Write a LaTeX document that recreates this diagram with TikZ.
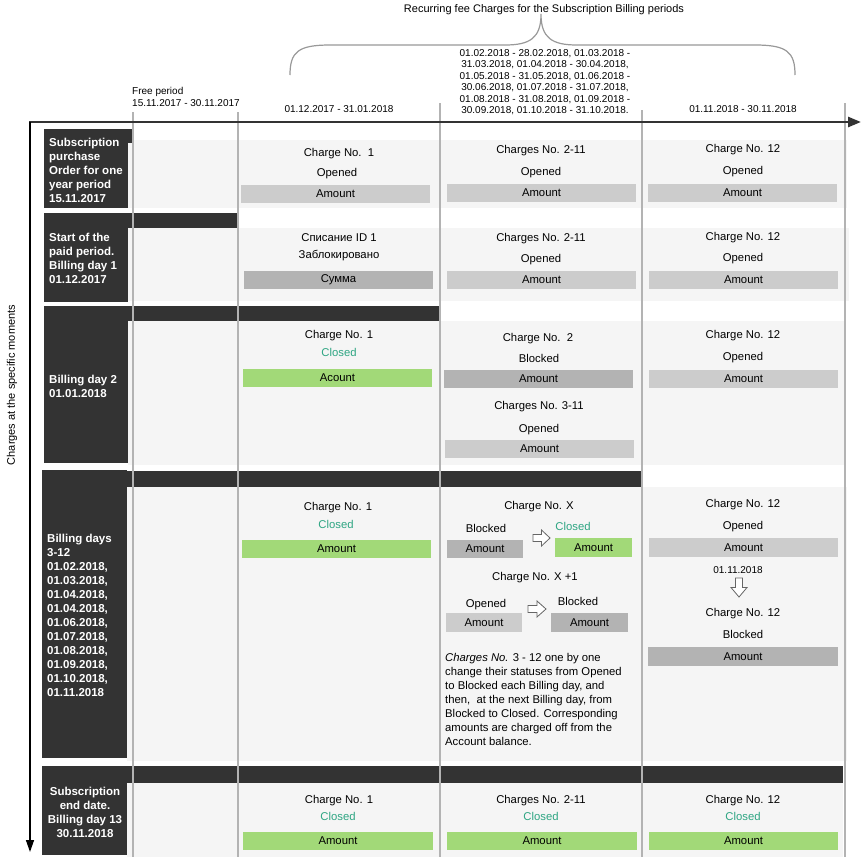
\documentclass[tikz,border=0pt]{standalone}
\usepackage{fontspec}
\setmainfont{Liberation Sans}
\usetikzlibrary{arrows.meta}
\definecolor{dk}{HTML}{333333}
\definecolor{gl}{HTML}{B3B3B3}
\definecolor{bandc}{HTML}{F5F5F5}
\definecolor{amtL}{HTML}{CCCCCC}
\definecolor{amtD}{HTML}{B3B3B3}
\definecolor{amtG}{RGB}{162,217,120}
\definecolor{clsd}{RGB}{45,165,130}
\definecolor{brc}{HTML}{999999}
\tikzset{
  txt/.style={font=\fontsize{11.3}{14}\selectfont, inner sep=0pt, anchor=base},
  small/.style={font=\fontsize{10}{12}\selectfont, inner sep=0pt},
  clo/.style={txt, text=clsd},
  amtbox/.style={inner sep=0pt, font=\fontsize{11.3}{14}\selectfont, minimum width=189pt, minimum height=18pt},
  al/.style={amtbox, fill=amtL},
  ad/.style={amtbox, fill=amtD},
  ag/.style={amtbox, fill=amtG},
  lab/.style={font=\fontsize{11.5}{14}\selectfont\bfseries, text=white, inner sep=0pt, align=left, anchor=north west},
  gline/.style={draw=gl, line width=1.5pt},
  bandfill/.style={fill=bandc},
  darkfill/.style={fill=dk},
  blockarrow/.style={draw=black!60, fill=white, line width=0.8pt},
}
\begin{document}
\begin{tikzpicture}[x=1pt,y=-1pt]
\useasboundingbox (0,0) rectangle (864,857);
\fill[white] (0,0) rectangle (864,857);

% bands
\fill[bandfill] (128,140) rectangle (847,208);
\fill[bandfill] (128,228) rectangle (849,301);
\fill[bandfill] (128,321) rectangle (845,465);
\fill[bandfill] (127,487) rectangle (847,761);
\fill[bandfill] (127,783) rectangle (843,857);

% dark label boxes and progress bars
\fill[darkfill] (44,129) rectangle (128,208);
\fill[darkfill] (128,129) rectangle (133,143);
\fill[darkfill] (44,213) rectangle (128,302);
\fill[darkfill] (128,213) rectangle (238,228);
\fill[darkfill] (44,306) rectangle (128,463);
\fill[darkfill] (128,306) rectangle (440,321);
\fill[darkfill] (42,470) rectangle (127,758);
\fill[darkfill] (127,471) rectangle (642,487);
\fill[darkfill] (42,766) rectangle (127,855);
\fill[darkfill] (127,766) rectangle (843,783);

% grey column lines
\draw[gline] (133,112) -- (133,857);
\draw[gline] (238,112) -- (238,857);
\draw[gline] (440,103) -- (440,857);
\draw[gline] (642,110) -- (642,857);
\draw[gline] (845,103) -- (845,857);

% axes
\coordinate (ho) at (29,122);
\coordinate (he) at (861,122);
\coordinate (vo) at (30,122);
\coordinate (ve) at (30,852);
\draw[dk, line width=2.5pt, -{Triangle[length=13pt,width=10pt]}] (ho) -- (he);
\draw[black, line width=1.3pt, -{Triangle[length=12pt,width=8pt]}] (vo) -- (ve);
\node[font=\fontsize{11}{13}\selectfont, rotate=90, inner sep=0pt] (vlab) at (12,385) {Charges at the specific moments};

% header
\node[font=\fontsize{11}{13}\selectfont, inner sep=0pt, anchor=base] (title) at (544,12) {Recurring fee Charges for the Subscription Billing periods};
\draw[brc, line width=1.2pt] (290,75) .. controls (290,52) and (298,45) .. (330,45) -- (505,45) .. controls (530,45) and (541,38) .. (541,14) .. controls (541,38) and (552,45) .. (577,45) -- (755,45) .. controls (787,45) and (795,52) .. (795,75);
\node[small, align=left, anchor=north west] (free) at (132,87.3) {Free period\\15.11.2017 - 30.11.2017};
\node[small, anchor=base] (p1) at (339,112.6) {01.12.2017 - 31.01.2018};
\node[font=\fontsize{10}{11.4}\selectfont, inner sep=0pt, align=center, anchor=north] (p2) at (545,49.3) {01.02.2018 - 28.02.2018, 01.03.2018 -\\31.03.2018, 01.04.2018 - 30.04.2018,\\01.05.2018 - 31.05.2018, 01.06.2018 -\\30.06.2018, 01.07.2018 - 31.07.2018,\\01.08.2018 - 31.08.2018, 01.09.2018 -\\30.09.2018, 01.10.2018 - 31.10.2018.};
\node[small, anchor=base] (p3) at (743,112.6) {01.11.2018 - 30.11.2018};

% labels
\node[lab] (L1) at (49,137.7) {Subscription\\purchase\\Order for one\\year period\\15.11.2017};
\node[lab] (L2) at (49,232.7) {Start of the\\paid period.\\Billing day 1\\01.12.2017};
\node[lab] (L3) at (49,374.7) {Billing day 2\\01.01.2018};
\node[lab] (L4) at (47,533.7) {Billing days\\3-12\\01.02.2018,\\01.03.2018,\\01.04.2018,\\01.04.2018,\\01.06.2018,\\01.07.2018,\\01.08.2018,\\01.09.2018,\\01.10.2018,\\01.11.2018};
\node[lab, align=center, anchor=north] (L5) at (85,786.7) {Subscription\\end date.\\Billing day 13\\30.11.2018};

% row 1
\node[txt] (r1c1a) at (339,156) {Charge No.\ \ 1};
\node[txt] (r1c1b) at (337,176) {Opened};
\node[al] (a11) at (335.5,193.5) {Amount};
\node[txt] (r1c2a) at (541,153) {Charges No. 2-11};
\node[txt] (r1c2b) at (541,175) {Opened};
\node[al] (a12) at (541.5,193) {Amount};
\node[txt] (r1c3a) at (743,152) {Charge No. 12};
\node[txt] (r1c3b) at (743,174) {Opened};
\node[al] (a13) at (742.5,192.5) {Amount};

% row 2
\node[txt] (r2c1a) at (339,241) {Списание ID 1};
\node[txt] (r2c1b) at (339,258) {Заблокировано};
\node[ad] (a21) at (338.5,280) {Сумма};
\node[txt] (r2c2a) at (541,241) {Charges No. 2-11};
\node[txt] (r2c2b) at (541,262) {Opened};
\node[al] (a22) at (541.5,280) {Amount};
\node[txt] (r2c3a) at (743,240) {Charge No. 12};
\node[txt] (r2c3b) at (743,261) {Opened};
\node[al] (a23) at (743.5,279.5) {Amount};

% row 3
\node[txt] (r3c1a) at (339,338) {Charge No. 1};
\node[clo] (r3c1b) at (339,356) {Closed};
\node[ag] (a31) at (337.5,378) {Acount};
\node[txt] (r3c2a) at (538,341) {Charge No.\ \ 2};
\node[txt] (r3c2b) at (539,362) {Blocked};
\node[ad] (a32) at (538.5,378.5) {Amount};
\node[txt] (r3c2c) at (539,409) {Charges No. 3-11};
\node[txt] (r3c2d) at (539,432) {Opened};
\node[al] (a33) at (539.5,449) {Amount};
\node[txt] (r3c3a) at (743,338) {Charge No. 12};
\node[txt] (r3c3b) at (743,360) {Opened};
\node[al] (a34) at (743.5,378.5) {Amount};

% row 4
\node[txt] (r4c1a) at (338,510) {Charge No. 1};
\node[clo] (r4c1b) at (336,528) {Closed};
\node[ag] (a41) at (336.5,549) {Amount};
\node[txt] (r4c2a) at (539,509) {Charge No. X};
\node[txt] (r4c2b) at (486,532) {Blocked};
\node[ad, minimum width=76pt] (a42) at (485,549) {Amount};
\node[clo] (r4c2c) at (573,530) {Closed};
\node[ag, minimum width=77pt, minimum height=19pt] (a43) at (593.5,547.5) {Amount};
\node[txt] (r4c2d) at (535,580) {Charge No. X +1};
\node[txt] (r4c2e) at (486,607) {Opened};
\node[al, minimum width=76pt, minimum height=19pt] (a44) at (484,622.5) {Amount};
\node[txt] (r4c2f) at (578,605) {Blocked};
\node[ad, minimum width=77pt, minimum height=19pt] (a45) at (589.5,622.5) {Amount};
\draw[blockarrow, shift={(541.5,538)}] (-8.5,-3.5) -- (0,-3.5) -- (0,-8) -- (8.5,0) -- (0,8) -- (0,3.5) -- (-8.5,3.5) -- cycle;
\draw[blockarrow, shift={(537,609)}] (-9,-3.5) -- (0,-3.5) -- (0,-8) -- (9,0) -- (0,8) -- (0,3.5) -- (-9,3.5) -- cycle;
\node[txt, font=\fontsize{11.3}{14}\selectfont, align=left, anchor=north west] (para) at (445,652.7) {\textit{Charges No.} 3 - 12 one by one\\change their statuses from Opened\\to Blocked each Billing day, and\\then,\ \ at the next Billing day, from\\Blocked to Closed. Corresponding\\amounts are charged off from the\\Account balance.};
\node[txt] (r4c3a) at (743,507) {Charge No. 12};
\node[txt] (r4c3b) at (743,529) {Opened};
\node[al, minimum height=19pt] (a46) at (743.5,547.5) {Amount};
\node[small, anchor=base] (r4c3c) at (738,573.6) {01.11.2018};
\draw[blockarrow, shift={(739,587.5)}] (-3.5,-9.5) -- (-3.5,0) -- (-8,0) -- (0,9.5) -- (8,0) -- (3.5,0) -- (3.5,-9.5) -- cycle;
\node[txt] (r4c3d) at (743,616) {Charge No. 12};
\node[txt] (r4c3e) at (743,638) {Blocked};
\node[ad, minimum width=190pt, minimum height=19pt] (a47) at (743,656.5) {Amount};

% row 5
\node[txt] (r5c1a) at (339,803) {Charge No. 1};
\node[clo] (r5c1b) at (338,820) {Closed};
\node[ag, minimum width=190pt] (a51) at (338,841) {Amount};
\node[txt] (r5c2a) at (541,803) {Charges No. 2-11};
\node[clo] (r5c2b) at (541,820) {Closed};
\node[ag, minimum width=190pt] (a52) at (542,841) {Amount};
\node[txt] (r5c3a) at (743,803) {Charge No. 12};
\node[clo] (r5c3b) at (743,820) {Closed};
\node[ag] (a53) at (743.5,841) {Amount};
\end{tikzpicture}
\end{document}
